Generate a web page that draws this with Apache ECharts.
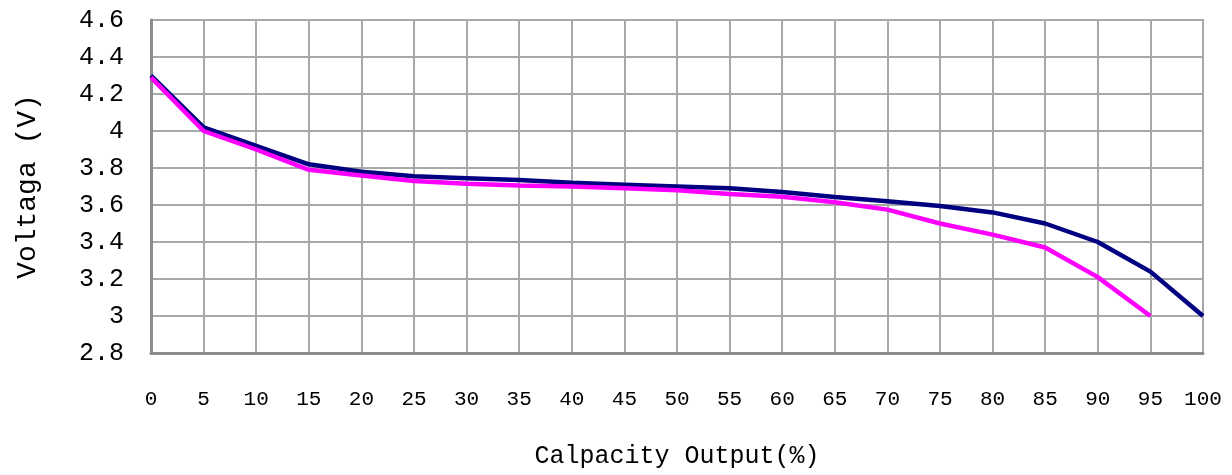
<!DOCTYPE html>
<html>
<head>
<meta charset="utf-8">
<script src="https://cdn.jsdelivr.net/npm/echarts@6/dist/echarts.min.js"></script>
<style>html,body{margin:0;padding:0;background:#fff}#c{width:1232px;height:475px}</style>
</head>
<body>
<div id="c"></div>
<script>
var capacity = [0,5,10,15,20,25,30,35,40,45,50,55,60,65,70,75,80,85,90,95,100];
var voltageNavy = [4.30,4.02,3.92,3.82,3.78,3.755,3.745,3.735,3.72,3.71,3.70,3.69,3.67,3.643,3.62,3.595,3.56,3.50,3.40,3.24,3.00];
var voltageMagenta = [4.29,4.00,3.90,3.79,3.76,3.73,3.715,3.705,3.70,3.69,3.68,3.66,3.645,3.615,3.575,3.50,3.44,3.37,3.21,3.00];
var yTicks = {min: 2.8, max: 4.6, step: 0.2};
var xName = 'Calpacity Output(%)';
var yName = 'Voltaga (V)';

function pairs(xs, ys){ var r=[]; for(var i=0;i<ys.length;i++) r.push([xs[i], ys[i]]); return r; }

var FONT = '"Liberation Mono", "DejaVu Sans Mono", monospace';
var chart = echarts.init(document.getElementById('c'), null, {renderer:'canvas'});
chart.setOption({
  animation: false,
  backgroundColor: '#fff',
  grid: {left:151, right:29, top:20, bottom:122, show:true, borderColor:'#8c8c8c', borderWidth:2,
         containLabel:false, outerBoundsMode:'none'},
  xAxis: {
    type:'value', min:0, max:100, interval:5,
    name: xName, nameLocation:'middle', nameGap:91,
    nameTextStyle:{fontFamily:FONT, fontSize:25, color:'#000'},
    axisLine:{show:true, lineStyle:{color:'#8c8c8c', width:3}},
    axisTick:{show:false},
    axisLabel:{fontFamily:FONT, fontSize:21, color:'#000', margin:36},
    splitLine:{show:true, lineStyle:{color:'#a8a8a8', width:2}}
  },
  yAxis: {
    type:'value', min:yTicks.min, max:yTicks.max, interval:yTicks.step,
    name: yName, nameLocation:'middle', nameGap:109, nameRotate:90,
    nameTextStyle:{fontFamily:FONT, fontSize:28, color:'#000'},
    axisLine:{show:true, lineStyle:{color:'#8c8c8c', width:3}},
    axisTick:{show:false},
    axisLabel:{fontFamily:FONT, fontSize:25, color:'#000', margin:27,
      formatter:function(v){ return String(Math.round(v*10)/10); }},
    splitLine:{show:true, lineStyle:{color:'#a8a8a8', width:2}}
  },
  series: [
    {type:'line', data:pairs(capacity, voltageNavy), symbol:'none', lineStyle:{color:'#000080', width:4.5}, z:2},
    {type:'line', data:pairs(capacity, voltageMagenta), symbol:'none', lineStyle:{color:'#ff00ff', width:4.5}, z:3}
  ]
});
</script>
</body>
</html>
